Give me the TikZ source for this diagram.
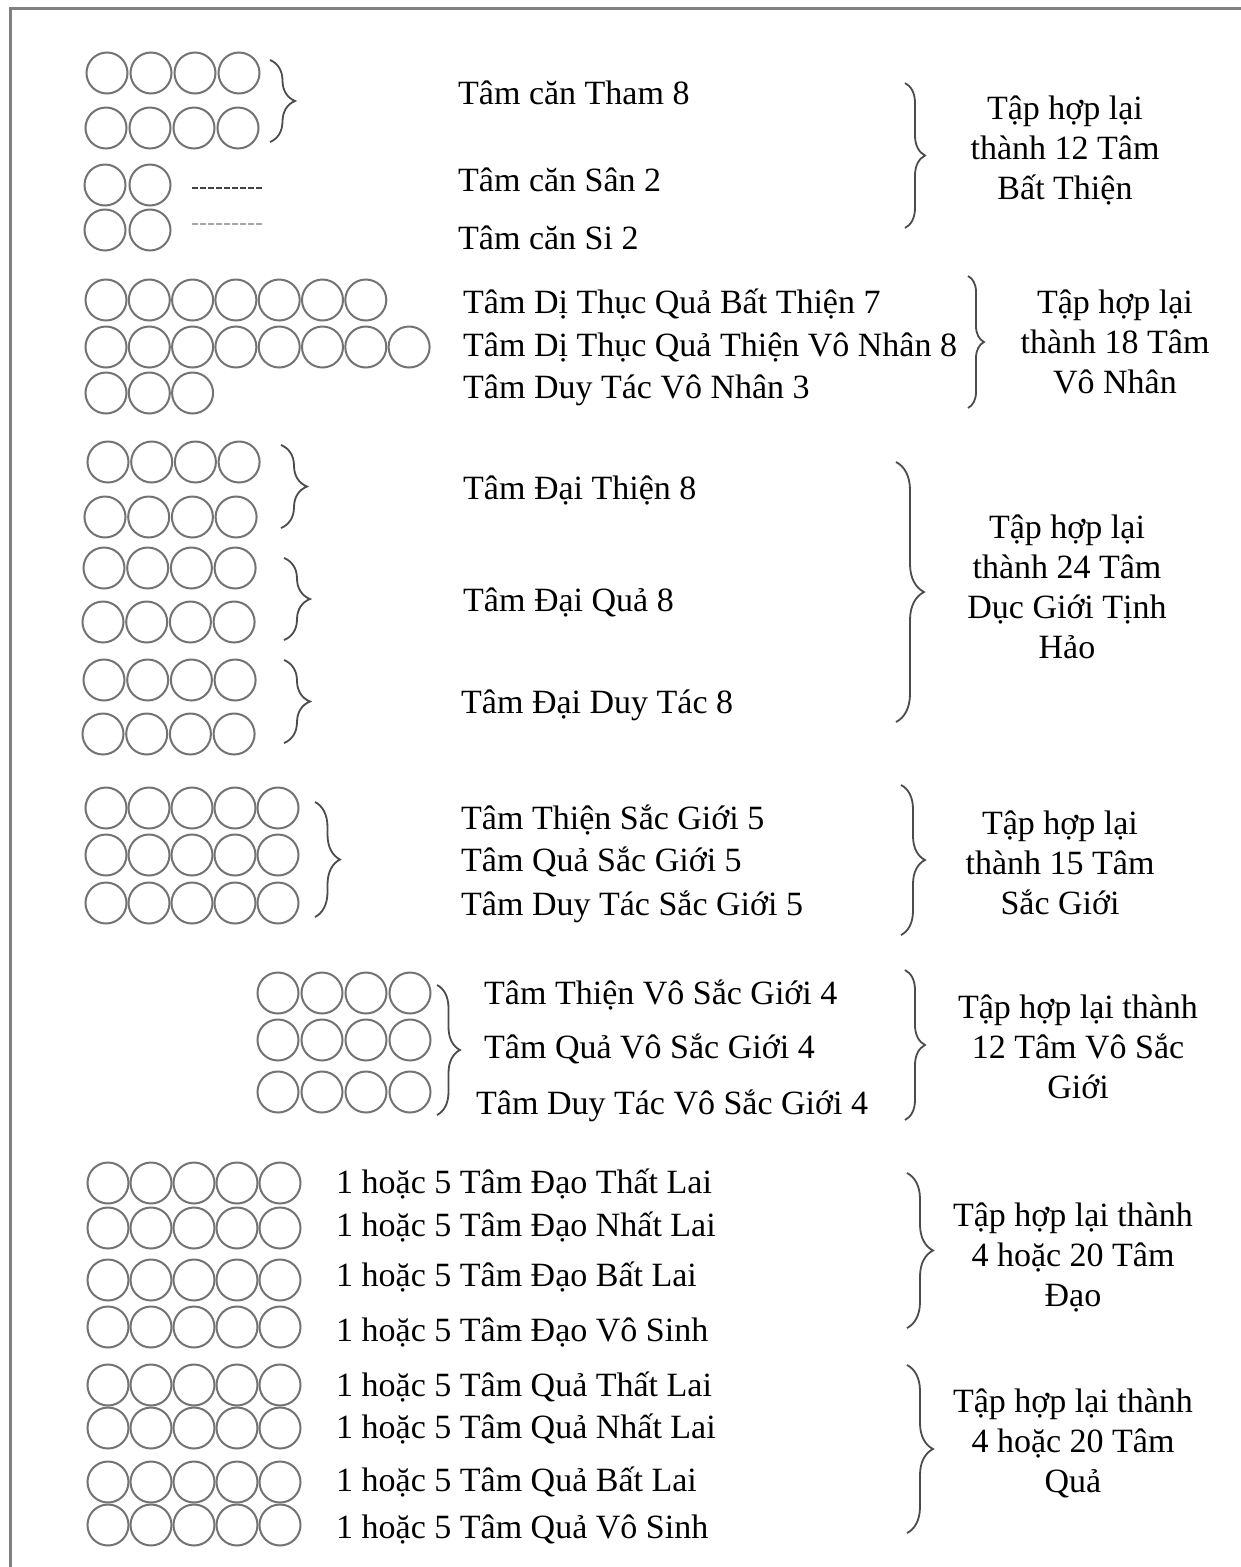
\documentclass[tikz,border=0pt]{standalone}
\usepackage{fontspec}
\setmainfont{Liberation Serif}
\usetikzlibrary{decorations.pathreplacing}
\newcommand\mycircrow[4]{% x0, y, n, spacing
  \foreach \i in {1,...,#3}{\draw[ring] ({#1+(\i-1)*#4},#2) circle [radius=20.5pt];}}
\begin{document}
\begin{tikzpicture}[x=1pt,y=-1pt,
  ring/.style={draw=black!55,line width=2pt},
  bracel/.style={draw=black!70,line width=1.8pt,decorate,decoration={brace,amplitude=#1}},
  item/.style={anchor=base west,inner sep=0pt,font=\fontsize{34}{40}\selectfont},
  group/.style={align=center,inner sep=0pt,font=\fontsize{34}{40}\selectfont},
  dash1/.style={draw=black!75,line width=2pt,dash pattern=on 6pt off 2pt},
  dash2/.style={draw=black!35,line width=2pt,dash pattern=on 6pt off 2pt}]
\useasboundingbox (0,0) rectangle (1241,1567);
\fill[white] (0,0) rectangle (1241,1567);
% frame
\draw[black!50,line width=3pt] (10,1567) -- (10,8) -- (1241,8);

% ---------- Section 1
\mycircrow{107}{73}{4}{44}
\mycircrow{106}{128}{4}{44}
\mycircrow{105}{185}{2}{45}
\mycircrow{105}{230}{2}{45}
\coordinate (d1a) at (192,188); \coordinate (d1b) at (262,188);
\coordinate (d2a) at (192,224); \coordinate (d2b) at (262,224);
\draw[dash1] (d1a) -- (d1b);
\draw[dash2] (d2a) -- (d2b);
\coordinate (b1t) at (270,60); \coordinate (b1b) at (270,142);
\draw[bracel=25pt] (b1t) -- (b1b);
\node[item] (t1a) at (458,104) {Tâm căn Tham 8};
\node[item] (t1b) at (458,191) {Tâm căn Sân 2};
\node[item] (t1c) at (458,249) {Tâm căn Si 2};
\coordinate (B1t) at (905,83); \coordinate (B1b) at (905,228);
\draw[bracel=20pt] (B1t) -- (B1b);
\node[group] (g1) at (1065,150) {Tập hợp lại\\thành 12 Tâm\\Bất Thiện};

% ---------- Section 2
\mycircrow{106}{300}{7}{43.3}
\mycircrow{106}{347}{8}{43.3}
\mycircrow{106}{393}{3}{43.3}
\node[item] (t2a) at (463,313) {Tâm Dị Thục Quả Bất Thiện 7};
\node[item] (t2b) at (463,356) {Tâm Dị Thục Quả Thiện Vô Nhân 8};
\node[item] (t2c) at (463,398) {Tâm Duy Tác Vô Nhân 3};
\coordinate (B2t) at (968,276); \coordinate (B2b) at (968,408);
\draw[bracel=16pt] (B2t) -- (B2b);
\node[group] (g2) at (1115,342) {Tập hợp lại\\thành 18 Tâm\\Vô Nhân};

% ---------- Section 3
\mycircrow{108}{462}{4}{43.7}
\mycircrow{105}{517}{4}{43.7}
\mycircrow{104}{568}{4}{43.7}
\mycircrow{103}{622}{4}{43.7}
\mycircrow{104}{680}{4}{43.7}
\mycircrow{103}{734}{4}{43.7}
\coordinate (b3at) at (281,445); \coordinate (b3ab) at (281,528);
\draw[bracel=26pt] (b3at) -- (b3ab);
\coordinate (b3bt) at (284,558); \coordinate (b3bb) at (284,640);
\draw[bracel=26pt] (b3bt) -- (b3bb);
\coordinate (b3ct) at (284,660); \coordinate (b3cb) at (284,743);
\draw[bracel=26pt] (b3ct) -- (b3cb);
\node[item] (t3a) at (463,499) {Tâm Đại Thiện 8};
\node[item] (t3b) at (463,611) {Tâm Đại Quả 8};
\node[item] (t3c) at (461,713) {Tâm Đại Duy Tác 8};
\coordinate (B3t) at (896,462); \coordinate (B3b) at (896,722);
\draw[bracel=28pt] (B3t) -- (B3b);
\node[group] (g3) at (1067,587) {Tập hợp lại\\thành 24 Tâm\\Dục Giới Tịnh\\Hảo};

% ---------- Section 4
\mycircrow{106}{808}{5}{43}
\mycircrow{106}{855}{5}{43}
\mycircrow{106}{903}{5}{43}
\coordinate (b4t) at (315,802); \coordinate (b4b) at (315,917);
\draw[bracel=25pt] (b4t) -- (b4b);
\node[item] (t4a) at (461,829) {Tâm Thiện Sắc Giới 5};
\node[item] (t4b) at (461,871) {Tâm Quả Sắc Giới 5};
\node[item] (t4c) at (461,915) {Tâm Duy Tác Sắc Giới 5};
\coordinate (B4t) at (901,785); \coordinate (B4b) at (901,935);
\draw[bracel=24pt] (B4t) -- (B4b);
\node[group] (g4) at (1060,863) {Tập hợp lại\\thành 15 Tâm\\Sắc Giới};

% ---------- Section 5
\mycircrow{278}{993}{4}{44}
\mycircrow{278}{1040}{4}{44}
\mycircrow{278}{1092}{4}{44}
\coordinate (b5t) at (437,985); \coordinate (b5b) at (437,1115);
\draw[bracel=23pt] (b5t) -- (b5b);
\node[item] (t5a) at (484,1004) {Tâm Thiện Vô Sắc Giới 4};
\node[item] (t5b) at (484,1058) {Tâm Quả Vô Sắc Giới 4};
\node[item] (t5c) at (476,1114) {Tâm Duy Tác Vô Sắc Giới 4};
\coordinate (B5t) at (905,970); \coordinate (B5b) at (905,1120);
\draw[bracel=20pt] (B5t) -- (B5b);
\node[group] (g5) at (1078,1047) {Tập hợp lại thành\\12 Tâm Vô Sắc\\Giới};

% ---------- Section 6
\mycircrow{108}{1183}{5}{43}
\mycircrow{108}{1228}{5}{43}
\mycircrow{108}{1280}{5}{43}
\mycircrow{108}{1327}{5}{43}
\mycircrow{108}{1385}{5}{43}
\mycircrow{108}{1428}{5}{43}
\mycircrow{108}{1482}{5}{43}
\mycircrow{108}{1525}{5}{43}
\node[item] (t6a) at (336,1193) {1 hoặc 5 Tâm Đạo Thất Lai};
\node[item] (t6b) at (336,1236) {1 hoặc 5 Tâm Đạo Nhất Lai};
\node[item] (t6c) at (336,1286) {1 hoặc 5 Tâm Đạo Bất Lai};
\node[item] (t6d) at (336,1341) {1 hoặc 5 Tâm Đạo Vô Sinh};
\node[item] (t6e) at (336,1396) {1 hoặc 5 Tâm Quả Thất Lai};
\node[item] (t6f) at (336,1438) {1 hoặc 5 Tâm Quả Nhất Lai};
\node[item] (t6g) at (336,1491) {1 hoặc 5 Tâm Quả Bất Lai};
\node[item] (t6h) at (336,1538) {1 hoặc 5 Tâm Quả Vô Sinh};
\coordinate (B6t) at (907,1173); \coordinate (B6b) at (907,1328);
\draw[bracel=26pt] (B6t) -- (B6b);
\node[group] (g6) at (1073,1257) {Tập hợp lại thành\\4 hoặc 20 Tâm\\Đạo};
\coordinate (B7t) at (907,1365); \coordinate (B7b) at (907,1533);
\draw[bracel=26pt] (B7t) -- (B7b);
\node[group] (g7) at (1073,1443) {Tập hợp lại thành\\4 hoặc 20 Tâm\\Quả};
\end{tikzpicture}
\end{document}
